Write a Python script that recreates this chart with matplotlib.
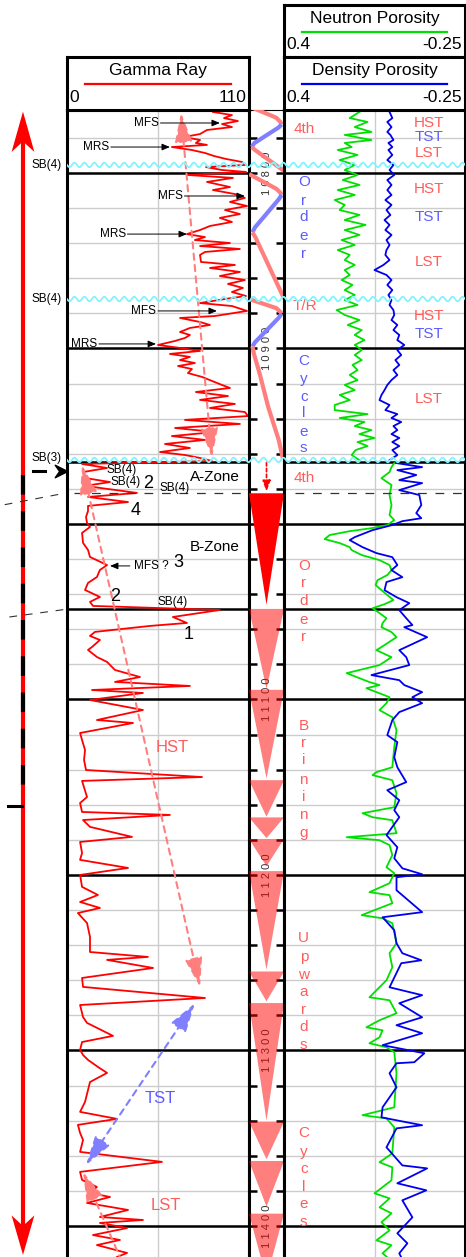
import numpy as np
import matplotlib
matplotlib.use('Agg')
import matplotlib.pyplot as plt
from matplotlib.path import Path

plt.rcParams['font.family'] = ['Liberation Sans', 'DejaVu Sans']

# ---------------- data ----------------
gr_depth = [10765.2, 10767.0, 10768.7, 10770.4, 10772.1, 10773.8, 10775.5, 10777.8, 10779.5, 10781.2,
            10782.9, 10784.0, 10785.2, 10786.9, 10788.6, 10790.3, 10792.0, 10793.7, 10795.4, 10796.6,
            10798.3, 10799.4, 10801.1, 10802.8, 10805.1, 10808.0, 10809.7, 10812.0, 10814.2, 10816.5,
            10818.8, 10821.1, 10823.4, 10825.6, 10827.9, 10830.2, 10832.5, 10834.8, 10836.5, 10838.2,
            10839.9, 10841.6, 10843.3, 10845.0, 10846.7, 10850.7, 10852.4, 10854.1, 10856.4, 10858.7,
            10861.0, 10863.2, 10865.5, 10867.8, 10870.1, 10871.8, 10874.1, 10875.8, 10878.6, 10881.5,
            10882.6, 10884.9, 10886.6, 10888.3, 10890.6, 10892.3, 10894.0, 10895.7, 10898.0, 10899.7,
            10901.4, 10903.1, 10904.8, 10906.6, 10908.3, 10910.0, 10911.7, 10914.0, 10916.2, 10918.5,
            10920.8, 10922.5, 10924.8, 10927.1, 10929.3, 10931.6, 10933.9, 10936.2, 10938.5, 10940.7,
            10943.0, 10945.3, 10947.6, 10949.9, 10952.1, 10954.4, 10956.7, 10959.0, 10960.7, 10962.4,
            10964.1,
            10965.8, 10968.1, 10970.4, 10973.8, 10976.1, 10978.3, 10982.3, 10984.6, 10987.5, 10989.7,
            10992.6, 10996.0, 10999.4, 11001.7, 11005.1, 11010.8, 11014.8, 11018.8, 11023.4, 11026.2,
            11030.2, 11033.6, 11037.6, 11041.6, 11044.4, 11046.7, 11049.0, 11053.0, 11056.4, 11058.1,
            11061.5, 11063.8, 11066.1, 11070.1, 11071.8, 11075.8, 11078.6, 11083.2, 11087.2, 11090.0,
            11092.3, 11094.6, 11096.3, 11100.3, 11106.0, 11111.7, 11113.4, 11119.1, 11123.1, 11128.8,
            11134.5, 11140.2, 11144.2, 11146.4, 11155.6, 11159.0, 11164.1, 11165.8, 11168.7, 11172.6,
            11178.3, 11181.2, 11187.5, 11191.4, 11196.0, 11200.0, 11206.8, 11211.4, 11215.4, 11218.8,
            11221.7, 11227.4, 11235.3, 11243.9, 11246.7, 11248.4, 11253.0, 11258.7, 11263.8, 11270.1,
            11274.1, 11281.0, 11284.3, 11291.7, 11295.2, 11299.7, 11302.6, 11305.4, 11309.4, 11312.8,
            11318.0, 11322.5, 11329.3, 11335.0, 11339.0, 11342.4, 11347.0, 11351.0, 11357.8, 11363.5,
            11369.2, 11373.8, 11377.8, 11381.2, 11383.5, 11386.9, 11390.9, 11394.9, 11396.6, 11398.3,
            11401.2, 11405.2, 11408.0, 11410.9, 11415.4, 11417.7]
gr_value = [88.2, 99.7, 94.9, 103.3, 93.7, 99.7, 84.6, 80.4, 70.7, 80.4,
            77.9, 84.6, 63.4, 75.5, 83.4, 88.8, 96.1, 105.7, 108.2, 84.0,
            93.7, 108.2, 72.5, 100.3, 84.6, 98.5, 88.2, 101.5, 107.5, 98.5,
            108.8, 95.5, 104.5, 92.4, 99.7, 86.4, 80.4, 72.5, 83.4, 77.3,
            98.5, 80.4, 104.5, 83.4, 80.4, 81.0, 101.5, 86.4, 104.5, 92.4,
            107.5, 97.3, 106.3, 99.7, 108.2, 95.5, 80.4, 99.7, 108.8, 89.4,
            68.3, 80.4, 86.4, 74.3, 68.3, 74.3, 71.3, 65.3, 55.0, 68.3,
            80.4, 62.2, 74.3, 68.3, 77.3, 67.1, 75.5, 73.1, 81.6, 87.6,
            93.7, 98.5, 77.9, 97.3, 80.4, 101.5, 86.4, 107.5, 109.4, 71.3,
            104.5, 65.3, 89.4, 63.4, 83.4, 59.2, 74.3, 56.2, 71.3, 80.4,
            87.6,
            9.1, 24.2, 9.7, 10.9, 26.0, 10.9, 42.3, 12.7, 36.9, 12.7,
            12.7, 11.5, 12.1, 13.9, 9.1, 9.7, 12.7, 13.9, 24.2, 19.9,
            18.1, 12.7, 10.9, 19.9, 13.9, 15.7, 92.4, 64.0, 72.5, 50.1,
            16.9, 13.9, 19.9, 15.1, 12.7, 18.1, 24.2, 29.0, 44.1, 29.0,
            74.3, 15.1, 45.9, 13.9, 45.9, 18.1, 39.9, 7.9, 9.1, 10.9,
            10.3, 11.5, 81.6, 9.1, 12.1, 7.9, 9.1, 62.2, 9.7, 13.9,
            39.3, 7.9, 9.1, 7.9, 36.9, 7.9, 9.1, 18.7, 7.9, 19.9,
            6.6, 12.1, 13.9, 13.9, 48.9, 24.2, 52.0, 9.1, 9.7, 83.4,
            7.9, 9.7, 12.1, 27.8, 9.1, 7.9, 9.7, 12.7, 18.7, 24.2,
            13.9, 12.7, 10.9, 7.9, 30.2, 6.6, 7.9, 9.7, 7.9, 57.4,
            7.9, 9.1, 18.1, 13.9, 26.0, 12.1, 36.9, 19.9, 45.9, 19.9,
            36.3, 15.7, 32.0, 18.1, 36.3, 30.2]

up_depth = [10765.2, 10768.7, 10770.9, 10773.8, 10776.6, 10778.3, 10781.2, 10782.9, 10785.2, 10786.9,
            10789.7, 10792.6, 10795.4, 10798.3, 10801.1, 10804.0, 10806.8, 10809.7, 10812.5, 10815.4,
            10818.2, 10821.1, 10823.9, 10826.8, 10829.6, 10832.5, 10835.3, 10838.2, 10841.0, 10843.9,
            10846.7, 10849.6, 10852.4, 10855.3, 10858.1, 10861.0, 10863.8, 10866.7, 10869.5, 10872.4,
            10875.2, 10878.1, 10880.9, 10883.8, 10886.6, 10889.5, 10892.3, 10895.2, 10898.0, 10900.9,
            10903.7, 10906.6, 10909.4, 10912.3, 10915.1, 10918.0, 10920.8, 10923.7, 10926.5, 10929.4,
            10932.2, 10935.1, 10937.4, 10939.6, 10941.9, 10944.2, 10946.5, 10948.8, 10951.0, 10953.3,
            10955.6, 10957.9, 10960.7, 10963.6]
nphi_up = [0.129, 0.164, 0.100, 0.146, 0.086, 0.182, 0.086, 0.182, 0.157, 0.207,
           0.136, 0.200, 0.146, 0.182, 0.136, 0.189, 0.129, 0.207, 0.146, 0.218,
           0.182, 0.200, 0.129, 0.182, 0.107, 0.182, 0.129, 0.193, 0.146, 0.207,
           0.164, 0.182, 0.146, 0.182, 0.164, 0.193, 0.154, 0.182, 0.146, 0.182,
           0.136, 0.211, 0.182, 0.129, 0.171, 0.121, 0.146, 0.111, 0.146, 0.121,
           0.146, 0.121, 0.154, 0.136, 0.164, 0.136, 0.182, 0.146, 0.200, 0.164,
           0.218, 0.218, 0.100, 0.200, 0.111, 0.146, 0.086, 0.129, 0.075, 0.136,
           0.100, 0.143, 0.157, 0.129]
dphi_up = [0.021, 0.011, 0.029, 0.014, 0.029, 0.018, 0.007, 0.025, 0.011, 0.025,
           0.011, 0.029, 0.007, 0.021, 0.004, 0.029, 0.014, 0.029, 0.014, 0.036,
           0.014, 0.032, 0.018, 0.039, 0.021, 0.036, 0.014, 0.032, 0.021, 0.032,
           0.036, 0.021, 0.043, 0.075, 0.032, 0.014, 0.029, 0.011, 0.025, 0.014,
           0.021, 0.007, 0.004, 0.014, -0.007, 0.007, -0.014, -0.007, -0.032, -0.007,
           -0.021, 0.000, -0.014, 0.007, -0.007, 0.014, 0.029, 0.039, 0.050, 0.057,
           0.021, 0.036, -0.007, 0.014, -0.021, 0.007, -0.007, 0.014, -0.014, 0.011,
           -0.014, 0.011, -0.007, 0.021]

nphi_lo_depth = [10965.3, 10967.6, 10970.4, 10973.9, 10977.8, 10983.5, 10989.2, 10994.9, 10997.8, 11000.6,
                 11002.4, 11004.1, 11006.3, 11008.6, 11010.9, 11013.2, 11014.9, 11017.7, 11020.6, 11023.4,
                 11026.3, 11029.1, 11032.0, 11034.8, 11037.7, 11040.5, 11043.4, 11045.7, 11048.0, 11050.8,
                 11053.7, 11056.5, 11058.8, 11061.6, 11064.5, 11069.0, 11071.9, 11075.9, 11080.4, 11085.0,
                 11090.1, 11091.8, 11093.6, 11098.7, 11102.1, 11106.1, 11110.1, 11117.5, 11127.2, 11138.6,
                 11141.4, 11143.1, 11146.0, 11153.4, 11161.4, 11164.8, 11167.1, 11168.8, 11176.2, 11178.5,
                 11180.2, 11183.0, 11188.7, 11195.6, 11199.0, 11204.7, 11209.8, 11211.5, 11216.1, 11222.9,
                 11224.7, 11227.5, 11238.9, 11244.6, 11252.6, 11260.0, 11269.7, 11271.4, 11278.8, 11282.8,
                 11286.8, 11288.5, 11292.5, 11295.9, 11298.2, 11301.0, 11313.0, 11332.4, 11336.9, 11338.7,
                 11343.8, 11358.6, 11363.7, 11366.6, 11374.0, 11381.4, 11384.3, 11389.4, 11392.8, 11397.9,
                 11402.5, 11408.2, 11411.0, 11415.6, 11417.9]
nphi_lo = [0.004, 0.014, 0.021, 0.050, 0.014, 0.021, 0.014, 0.021, 0.004, 0.029,
           0.086, 0.164, 0.236, 0.254, 0.200, 0.164, 0.157, 0.121, 0.057, 0.021,
           0.014, 0.029, 0.064, 0.071, 0.050, 0.029, 0.007, 0.039, 0.082, 0.057,
           0.032, 0.046, 0.050, 0.014, -0.004, 0.039, 0.068, 0.014, 0.057, 0.175,
           0.093, 0.057, 0.104, 0.021, 0.032, 0.057, 0.011, -0.004, 0.004, 0.011,
           0.068, 0.082, 0.011, -0.004, 0.004, 0.118, 0.082, 0.011, -0.004, 0.175,
           0.057, 0.021, 0.011, 0.032, 0.004, 0.021, 0.093, 0.021, 0.011, 0.121,
           0.046, 0.011, -0.004, 0.021, 0.011, 0.032, 0.093, 0.021, -0.004, 0.057,
           0.104, 0.046, 0.057, 0.093, 0.032, 0.004, -0.004, 0.004, 0.118, 0.032,
           0.004, 0.011, 0.057, 0.011, 0.014, 0.075, 0.021, 0.057, 0.014, 0.050,
           0.021, 0.068, 0.014, 0.046, 0.029]

dphi_lo_depth = [10965.3, 10967.6, 10969.3, 10972.1, 10975.0, 10976.7, 10980.7, 10983.5, 10989.2, 10993.8,
                 10996.7, 10998.4, 11000.6, 11003.5, 11007.5, 11009.2, 11013.2, 11016.6, 11018.9, 11023.4,
                 11026.3, 11030.3, 11033.1, 11037.7, 11041.7, 11045.1, 11049.1, 11053.7, 11057.6, 11058.8,
                 11064.5, 11071.9, 11075.9, 11080.4, 11086.1, 11089.0, 11091.8, 11095.8, 11098.7, 11102.1,
                 11107.2, 11111.8, 11120.3, 11124.3, 11132.9, 11138.6, 11147.1, 11151.7, 11157.4, 11163.1,
                 11167.1, 11177.3, 11184.2, 11190.5, 11196.2, 11199.6, 11201.3, 11208.7, 11221.2, 11224.1,
                 11231.5, 11238.9, 11244.6, 11248.6, 11250.3, 11264.0, 11268.5, 11273.1, 11281.1, 11285.6,
                 11290.2, 11297.0, 11301.6, 11306.7, 11307.3, 11313.0, 11321.0, 11332.4, 11338.1, 11339.8,
                 11342.6, 11344.4, 11355.2, 11365.5, 11367.2, 11375.7, 11379.7, 11385.4, 11395.1, 11404.2,
                 11409.9, 11415.6, 11417.9]
dphi_lo = [-0.004, -0.096, -0.007, -0.075, -0.014, -0.096, -0.014, -0.086, -0.093, -0.075,
           -0.093, -0.025, 0.011, 0.082, 0.146, 0.164, 0.118, 0.068, 0.011, -0.007,
           0.014, -0.025, 0.032, 0.039, -0.004, -0.050, -0.014, -0.039, -0.061, -0.032,
           -0.114, -0.014, -0.039, -0.050, 0.086, -0.014, -0.032, -0.096, -0.061, -0.096,
           -0.014, 0.011, 0.029, -0.007, 0.004, -0.007, -0.039, 0.029, -0.014, 0.004,
           -0.014, 0.032, -0.007, 0.004, -0.025, -0.096, -0.004, -0.004, -0.096, 0.046,
           0.004, -0.004, -0.025, -0.093, -0.021, 0.021, -0.096, -0.014, -0.096, -0.004,
           -0.096, 0.046, -0.104, -0.068, -0.004, 0.021, -0.004, 0.046, 0.050, -0.004,
           -0.096, -0.004, 0.032, -0.025, -0.114, -0.007, -0.111, -0.025, -0.061, -0.007,
           -0.043, -0.014, -0.021]

# transgressive / regressive cycle curve in depth track (relative position 0..1)
tr_segments = [
    ('R', [10762.0, 10768.5, 10771.0, 10772.3], [0.00, 0.78, 0.90, 0.93]),
    ('T', [10772.3, 10774.0, 10783.0, 10785.2], [0.93, 0.85, 0.15, 0.08]),
    ('R', [10785.2, 10787.0, 10798.8], [0.08, 0.18, 1.00]),
    ('R', [10800.6, 10809.0, 10811.3, 10812.5], [0.00, 0.78, 0.90, 0.93]),
    ('T', [10812.5, 10815.0, 10831.0, 10833.8], [0.93, 0.85, 0.17, 0.10]),
    ('R', [10833.8, 10836.5, 10871.5], [0.10, 0.18, 1.00]),
    ('R', [10872.0, 10877.0, 10879.2, 10880.2], [0.03, 0.78, 0.90, 0.93]),
    ('T', [10880.2, 10882.5, 10896.5, 10898.8], [0.93, 0.85, 0.17, 0.10]),
    ('R', [10898.8, 10903.0, 10914.0, 10933.4, 10952.2, 10963.0], [0.10, 0.14, 0.30, 0.55, 0.85, 0.97]),
]

# brining-upward triangles (top depth, apex depth)
tri_dark = [(10982.5, 11046.0)]
tri_light = [(11048.4, 11094.0), (11094.5, 11145.0), (11146.0, 11166.8), (11167.2, 11179.0),
             (11179.5, 11195.0), (11197.8, 11254.0), (11255.0, 11272.0), (11273.0, 11340.0),
             (11340.5, 11362.0), (11363.0, 11389.0), (11393.0, 11430.0)]

depth_labels = [10800, 10900, 11000, 11100, 11200, 11300, 11400]
major_lines = [10800, 10900, 10964.7, 11000, 11048.4, 11100, 11200, 11300, 11400]
sb4_waves = [10795.4, 10871.8]
sb3_wave = 10963.5

# ---------------- figure ----------------
W, H = 466, 1257
fig = plt.figure(figsize=(W / 100, H / 100), dpi=100)
TOP, BOT = 10764.1, 11417.7


def rect(x0, y0, x1, y1):
    return [x0 / W, 1 - y1 / H, (x1 - x0) / W, (y1 - y0) / H]


RED_L = '#ff7f7f'
BLUE_L = '#7f7fff'
TXT_R = '#ff5c5c'
TXT_B = '#5c5cff'
GRID = '#cccccc'

ax_gr = fig.add_axes(rect(67, 110, 249, 1257))
ax_dp = fig.add_axes(rect(249, 110, 284, 1257))
ax_po = fig.add_axes(rect(284, 110, 465, 1257))
ax_lf = fig.add_axes(rect(0, 110, 67, 1257))
ax_wv = fig.add_axes(rect(67, 110, 465, 1257))

for ax in (ax_gr, ax_dp, ax_po, ax_lf, ax_wv):
    ax.set_ylim(BOT, TOP)
    ax.set_xticks([])
ax_gr.set_xlim(0, 110)
ax_po.set_xlim(0.4, -0.25)
ax_dp.set_xlim(0, 1)
ax_lf.set_xlim(0, 1)
ax_wv.set_xlim(0, 1)

for ax in (ax_gr, ax_po):
    ax.set_yticks([])
    for s in ('left', 'right', 'top'):
        ax.spines[s].set_linewidth(2.2)
    ax.spines['bottom'].set_visible(False)
    for d in np.arange(10780, 11420, 20):
        ax.axhline(d, color=GRID, lw=1.0, zorder=1)
    for d in major_lines:
        ax.axhline(d, color='k', lw=1.8, zorder=2)
ax_gr.axvline(55, color=GRID, lw=1.0, zorder=1)
ax_po.axvline(0.075, color=GRID, lw=1.0, zorder=1)

ax_lf.axis('off')
ax_wv.axis('off')
ax_wv.patch.set_alpha(0)
ax_lf.patch.set_alpha(0)

# depth track
ax_dp.set_yticks(np.arange(10780, 11420, 20))
ax_dp.tick_params(axis='y', direction='in', length=6, width=1.8, left=True, right=True,
                  labelleft=False, labelright=False)
for s in ('left', 'right'):
    ax_dp.spines[s].set_linewidth(2.2)
ax_dp.spines['top'].set_linewidth(0.8)
ax_dp.spines['bottom'].set_visible(False)
for d in depth_labels:
    ax_dp.text(0.5, d, ' '.join(str(d)), rotation=90, ha='center', va='center',
               fontsize=8, color='#333333', zorder=1)
for kind, dd, pp in tr_segments:
    ax_dp.plot(pp, dd, color=RED_L if kind == 'R' else BLUE_L, lw=3.0,
               solid_capstyle='butt', solid_joinstyle='round', zorder=3)
for top, apex in tri_dark:
    ax_dp.fill([0, 1, 0.5], [top, top, apex], color='#ff0000', lw=0, zorder=3)
for top, apex in tri_light:
    ax_dp.fill([0, 1, 0.5], [top, top, apex], color='red', alpha=0.5, lw=0, zorder=3)
ax_dp.annotate('', xy=(0.5, 10981.5), xytext=(0.5, 10965.0),
               arrowprops=dict(arrowstyle='-|>,head_length=0.8,head_width=0.3', mutation_scale=8,
                               color='red', lw=1.2, linestyle=(0, (2, 1.5)), shrinkA=0, shrinkB=0),
               zorder=4)

# curves
ax_gr.plot(gr_value, gr_depth, color='#ff0000', lw=1.3, zorder=3)
ax_po.plot(nphi_up, up_depth, color='#00e000', lw=1.3, zorder=3)
ax_po.plot(dphi_up, up_depth, color='#0000ee', lw=1.3, zorder=3)
ax_po.plot(nphi_lo, nphi_lo_depth, color='#00e000', lw=1.3, zorder=3)
ax_po.plot(dphi_lo, dphi_lo_depth, color='#0000ee', lw=1.3, zorder=3)

# dashed correlation line
ax_gr.plot([4.5, 110], [10982.3, 10982.3], color='#333333', lw=0.9, ls=(0, (7, 7)), zorder=4)
ax_po.plot([0.36, -0.25], [10982.3, 10982.3], color='#333333', lw=0.9, ls=(0, (7, 7)), zorder=4)

# wavy sequence boundaries
xw = np.linspace(0, 1, 1200)
for d in sb4_waves + [sb3_wave]:
    ax_wv.plot(xw, d + 1.3 * np.sin(2 * np.pi * 40 * xw), color='#7ff5ff', lw=1.3, zorder=6)


# dashed double arrows
def dash_arrow(ax, p0, p1, color):
    ax.annotate('', xy=p1, xytext=p0,
                arrowprops=dict(arrowstyle='<|-|>,head_length=1.5,head_width=0.45', mutation_scale=12,
                                color=color, lw=1.5, linestyle=(0, (3, 2.5)), shrinkA=0, shrinkB=0),
                zorder=5)


dash_arrow(ax_gr, (68.9, 10765.8), (87.6, 10962.0), RED_L)
dash_arrow(ax_gr, (9.1, 10966.4), (80.4, 11263.8), RED_L)
dash_arrow(ax_gr, (11.5, 11365.3), (77.3, 11273.1), BLUE_L)
ax_gr.annotate('', xy=(9.7, 11369.3), xytext=(33.0, 11420.0),
               arrowprops=dict(arrowstyle='-|>,head_length=1.5,head_width=0.45', mutation_scale=12,
                               color=RED_L, lw=1.5, linestyle=(0, (3, 2.5)), shrinkA=0, shrinkB=0),
               zorder=5, annotation_clip=False)


# MFS / MRS pointers
def pointer(xt, xa, d):
    ax_gr.annotate('', xy=(xa, d), xytext=(xt, d),
                   arrowprops=dict(arrowstyle='-|>,head_length=0.6,head_width=0.25', mutation_scale=8,
                                   color='k', lw=0.7, shrinkA=0, shrinkB=0), zorder=6)


ann = [('MFS', 55.6, 56.5, 92.4, 10771.5), ('MRS', 25.5, 26.5, 62.2, 10785.2),
       ('MFS', 70.0, 71.0, 107.5, 10813.1), ('MRS', 35.5, 36.5, 72.5, 10834.8),
       ('MFS', 54.0, 55.0, 90.6, 10878.6), ('MRS', 18.0, 19.3, 53.8, 10897.4)]
for lab, xtext, x0, x1, d in ann:
    ax_gr.text(xtext, d, lab, ha='right', va='center', fontsize=8.5, color='k', zorder=6)
    pointer(x0, x1, d)
ax_gr.text(40.5, 11023.9, 'MFS ?', ha='left', va='center', fontsize=8.5, zorder=6)
pointer(38.0, 26.0, 11023.9)

small = [('SB(4)', 33.2, 10969.2), ('SB(4)', 35.6, 10976.1), ('SB(4)', 65.3, 10979.5), ('SB(4)', 64.0, 11044.4)]
for lab, x, d in small:
    ax_gr.text(x, d, lab, ha='center', va='center', fontsize=8.5, zorder=6)
big = [('2', 48.9, 10977.2), ('4', 41.7, 10992.6), ('3', 67.1, 11021.7), ('2', 29.0, 11041.6), ('1', 73.7, 11062.7)]
for lab, x, d in big:
    ax_gr.text(x, d, lab, ha='center', va='center', fontsize=13, zorder=6)
ax_gr.text(89.4, 10973.2, 'A-Zone', ha='center', va='center', fontsize=11, zorder=6)
ax_gr.text(89.4, 11013.1, 'B-Zone', ha='center', va='center', fontsize=11, zorder=6)
ax_gr.text(63.4, 11127.1, 'HST', ha='center', va='center', fontsize=12, color=TXT_R, zorder=6)
ax_gr.text(56.2, 11327.1, 'TST', ha='center', va='center', fontsize=12, color=TXT_B, zorder=6)
ax_gr.text(59.8, 11388.6, 'LST', ha='center', va='center', fontsize=12, color=TXT_R, zorder=6)

# porosity track annotations
sys_lab = [('HST', 10771.5, TXT_R), ('TST', 10779.5, TXT_B), ('LST', 10788.6, TXT_R),
           ('HST', 10809.1, TXT_R), ('TST', 10825.1, TXT_B), ('LST', 10850.7, TXT_R),
           ('HST', 10881.5, TXT_R), ('TST', 10891.7, TXT_B), ('LST', 10928.8, TXT_R)]
for lab, d, c in sys_lab:
    ax_po.text(-0.121, d, lab, ha='center', va='center', fontsize=11, color=c, zorder=6)
ax_po.text(0.329, 10774.9, '4th', ha='center', va='center', fontsize=11, color=TXT_R, zorder=6)
ax_po.text(0.325, 10875.8, 'T/R', ha='center', va='center', fontsize=11, color=TXT_R, zorder=6)
ax_po.text(0.329, 10973.8, '4th', ha='center', va='center', fontsize=11, color=TXT_R, zorder=6)


def vword(word, depths, color):
    for ch, d in zip(word, depths):
        ax_po.text(0.329, d, ch, ha='center', va='center', fontsize=11, color=color, zorder=6)


vword('Order', [10805.1, 10816.0, 10825.1, 10835.9, 10846.2], TXT_B)
vword('Cycles', [10907.1, 10917.4, 10927.6, 10936.8, 10947.6, 10956.7], TXT_B)
vword('Order', [11023.9, 11033.6, 11043.8, 11054.7, 11064.4], TXT_R)
vword('Brining', [11115.1, 11124.8, 11134.5, 11145.9, 11155.6, 11165.8, 11176.1], TXT_R)
vword('Upwards', [11235.9, 11246.7, 11257.0, 11266.7, 11276.9, 11286.6, 11296.9], TXT_R)
vword('Cycles', [11347.0, 11357.8, 11367.5, 11377.8, 11387.5, 11397.7], TXT_R)

# left margin: time arrow, SB labels
XA = 0.343
ax_lf.plot([XA, XA], [10775.0, 11405.0], color='red', lw=3.0, solid_capstyle='butt', zorder=3)
ax_lf.fill([XA, XA - 0.17, XA, XA + 0.17], [10765.0, 10788.0, 10782.0, 10788.0], color='red', lw=0, zorder=3)
ax_lf.fill([XA, XA - 0.17, XA, XA + 0.17], [11416.5, 11394.0, 11400.0, 11394.0], color='red', lw=0, zorder=3)
ax_lf.plot([XA, XA], [10972.0, 11152.0], color='k', lw=3.0, ls=(0, (4.7, 4.0)), zorder=4)
ax_lf.plot([0.12, 0.33], [11160.7, 11160.7], color='k', lw=2.2, zorder=4)
ax_lf.plot([0.49, 0.67], [10969.8, 10969.8], color='k', lw=2.2, zorder=4)
chev = Path([(-1, 1), (1, 0), (-1, -1), (-0.3, 0), (-1, 1)],
            [Path.MOVETO, Path.LINETO, Path.LINETO, Path.LINETO, Path.CLOSEPOLY])
ax_lf.plot([0.91], [10969.6], marker=chev, markersize=9, color='k', zorder=4)
ax_lf.plot([0.07, 0.95], [10989.0, 10982.6], color='#333333', lw=0.8, ls=(0, (7, 7)), zorder=3)
ax_lf.plot([0.14, 0.95], [11053.0, 11048.8], color='#333333', lw=0.8, ls=(0, (7, 7)), zorder=3)
for lab, d in [('SB(4)', 10795.4), ('SB(4)', 10871.8), ('SB(3)', 10962.4)]:
    ax_lf.text(0.69, d, lab, ha='center', va='center', fontsize=8.5, zorder=5)


# headers
def header(r, title, color, left, right):
    ax = fig.add_axes(rect(*r))
    ax.set_xlim(0, 1)
    ax.set_ylim(0, 1)
    ax.set_xticks([])
    ax.set_yticks([])
    for s in ax.spines.values():
        s.set_linewidth(2.2)
    ax.text(0.5, 0.74, title, ha='center', va='center', fontsize=12.5)
    ax.plot([0.1, 0.9], [0.49, 0.49], color=color, lw=1.6)
    ax.text(0.015, 0.24, left, ha='left', va='center', fontsize=12.5)
    ax.text(0.985, 0.24, right, ha='right', va='center', fontsize=12.5)


header((67, 57, 249, 110), 'Gamma Ray', '#ff0000', '0', '110')
header((284, 5, 465, 57), 'Neutron Porosity', '#00e000', '0.4', '-0.25')
header((284, 57, 465, 110), 'Density Porosity', '#0000ee', '0.4', '-0.25')

fig.savefig('out.png', dpi=100)
